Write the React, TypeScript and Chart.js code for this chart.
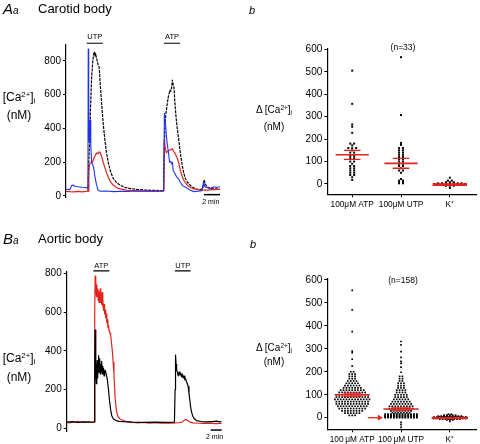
import React, { useEffect, useRef } from 'react';
import { Chart, registerables } from 'chart.js';

Chart.register(...registerables);

const FONT = "'Liberation Sans', Arial, Helvetica, sans-serif";
const RED = '#e3221c';
const BLUE = '#2231ee';

// ---------- Panel Aa (carotid body traces), time in minutes ----------
const aaTimeMax = 19.25;
const aaYTicks = [0, 200, 400, 600, 800];
const aaBlueT = [0, 0.5, 0.7, 0.9, 1.1, 1.5, 2.0, 2.5, 2.74, 2.78, 2.84, 2.9, 2.96, 3.02, 3.1, 3.2, 3.3, 3.45, 3.6, 3.8, 4.0, 4.3, 5, 6, 7, 7.8, 8.5, 9.5, 10.5, 11.5, 12.2, 12.3, 12.45, 12.6, 12.8, 12.95, 13.1, 13.2, 13.3, 13.4, 13.6, 13.8, 14.1, 14.3, 14.6, 15, 15.5, 16, 16.5, 17, 17.2, 17.35, 17.6, 18, 18.5, 18.8, 19.25];
const aaBlueV = [40, 38, 62, 65, 58, 55, 52, 50, 45, 870, 600, 320, 400, 450, 300, 200, 190, 170, 120, 70, 35, 28, 30, 26, 28, 27, 30, 28, 30, 28, 30, 490, 420, 330, 260, 200, 205, 190, 200, 150, 135, 115, 100, 80, 60, 50, 35, 26, 28, 32, 85, 55, 50, 45, 55, 50, 55];
const aaBlackT = [2.7, 2.75, 2.85, 2.95, 3.05, 3.2, 3.35, 3.45, 3.55, 3.62, 3.7, 3.8, 3.9, 4.0, 4.15, 4.3, 4.45, 4.65, 4.85, 5.05, 5.3, 5.6, 5.9, 6.3, 6.75, 7.3, 8, 9, 10, 11, 12.2, 12.3, 12.4, 12.55, 12.7, 12.8, 12.9, 13.0, 13.1, 13.2, 13.3, 13.4, 13.5, 13.6, 13.75, 13.9, 14.1, 14.3, 14.5, 14.7, 14.9, 15.2, 15.5, 15.9, 16.3, 16.8, 17.1, 17.25, 17.45, 17.6, 18, 18.5, 19.25];
const aaBlackV = [30, 30, 200, 320, 500, 700, 800, 840, 855, 830, 845, 820, 800, 780, 760, 650, 550, 430, 336, 260, 194, 140, 105, 80, 65, 52, 45, 38, 35, 33, 32, 300, 450, 510, 560, 590, 610, 628, 620, 640, 687, 660, 640, 560, 470, 400, 330, 250, 190, 140, 105, 80, 65, 50, 40, 38, 45, 95, 70, 55, 45, 42, 40];
const aaRedT = [0, 0.5, 1, 1.5, 2, 2.5, 2.78, 2.86, 2.95, 3.1, 3.3, 3.5, 3.7, 3.85, 4.0, 4.15, 4.3, 4.45, 4.65, 4.85, 5.05, 5.3, 5.6, 5.9, 6.3, 6.75, 7.5, 8, 9, 10, 11, 12.22, 12.3, 12.4, 12.55, 12.7, 12.9, 13.1, 13.3, 13.45, 13.6, 13.75, 13.9, 14.1, 14.3, 14.5, 14.7, 14.9, 15.2, 15.6, 16, 16.5, 17, 17.6, 18.5, 19.25];
const aaRedV = [28, 26, 25, 27, 25, 27, 28, 150, 190, 195, 200, 225, 245, 255, 250, 262, 255, 235, 200, 170, 140, 110, 82, 65, 50, 42, 35, 33, 30, 30, 29, 30, 330, 290, 255, 265, 270, 275, 280, 265, 255, 240, 225, 195, 150, 120, 95, 80, 62, 50, 42, 36, 35, 35, 38, 40];
const aaStimOn = [2.6, 12.25];
const aaStimOff = [4.6, 14.25];
const aaStimNames = ['UTP', 'ATP'];
const aaScaleBar = [17.25, 19.25];

// ---------- Panel Ab (carotid body, scatter) ----------
const abCats = ['100μM ATP', '100μM UTP', 'K⁺'];
const abYTicks = [0, 100, 200, 300, 400, 500, 600];
const abAtpRows = [[505, 1], [357, 1], [265, 1], [255, 1], [228, 1], [180, 2], [172, 1], [160, 3], [150, 1], [140, 2], [125, 2], [115, 2], [100, 2], [90, 1], [80, 2], [70, 2], [60, 2], [50, 2], [40, 2], [30, 1], [18, 1]];
const abUtpRows = [[565, 1], [307, 1], [183, 1], [174, 1], [160, 2], [150, 2], [140, 2], [130, 2], [120, 2], [110, 2], [100, 2], [90, 2], [80, 2], [70, 1], [60, 2], [50, 1], [22, 1], [15, 2], [8, 2], [3, 2]];
const abKRows = [[28, 1], [15, 2], [8, 3], [3, 7], [0, 9], [-4, 7], [-8, 3], [-18, 1]];
const abMeans = [130, 92, -3];
const abSems = [20, 22, 3];
const abN = '(n=33)';

// ---------- Panel Ba (aortic body traces) ----------
const baTimeMax = 28.2;
const baYTicks = [0, 200, 400, 600, 800];
const baRedT = [0, 0.5, 1, 1.5, 2, 2.5, 3, 3.5, 4, 4.5, 5.0, 5.1, 5.18, 5.25, 5.32, 5.4, 5.48, 5.56, 5.64, 5.72, 5.8, 5.88, 5.96, 6.04, 6.12, 6.2, 6.28, 6.36, 6.44, 6.52, 6.6, 6.7, 6.8, 6.9, 7.0, 7.1, 7.2, 7.3, 7.4, 7.5, 7.6, 7.7, 7.8, 7.9, 8.0, 8.15, 8.3, 8.45, 8.6, 8.8, 9.05, 9.3, 9.7, 10.3, 11, 12, 13, 14, 15, 16, 17, 18, 19, 19.8, 20.5, 21, 21.4, 21.7, 22.0, 22.4, 23, 24, 25, 26, 27, 28.2];
const baRedV = [30, 28, 33, 30, 36, 32, 34, 30, 35, 30, 32, 600, 785, 700, 760, 680, 740, 690, 720, 660, 710, 650, 700, 680, 720, 650, 690, 640, 700, 630, 670, 610, 640, 590, 610, 570, 590, 545, 560, 520, 530, 505, 495, 490, 480, 440, 400, 340, 280, 160, 90, 62, 48, 40, 33, 30, 28, 30, 27, 29, 26, 28, 27, 28, 30, 32, 42, 46, 40, 32, 28, 26, 25, 27, 24, 25];
const baBlackT = [0, 1, 2, 3, 4, 5.0, 5.1, 5.17, 5.25, 5.33, 5.4, 5.48, 5.56, 5.64, 5.72, 5.8, 5.88, 5.96, 6.04, 6.12, 6.2, 6.28, 6.36, 6.44, 6.52, 6.6, 6.7, 6.8, 6.9, 7.0, 7.2, 7.4, 7.6, 7.8, 8.0, 8.2, 8.5, 9.0, 9.5, 10.5, 12, 14, 16, 18, 19.6, 19.72, 19.8, 19.9, 20.0, 20.15, 20.3, 20.45, 20.6, 20.75, 20.9, 21.05, 21.2, 21.35, 21.5, 21.65, 21.8, 21.95, 22.1, 22.25, 22.4, 22.55, 22.7, 22.9, 23.15, 23.6, 24.5, 25.5, 26.5, 27.3, 27.8, 28.2];
const baBlackV = [32, 34, 31, 33, 32, 33, 300, 507, 380, 275, 230, 310, 350, 260, 330, 375, 290, 340, 360, 280, 330, 300, 345, 290, 320, 280, 310, 270, 295, 300, 280, 250, 200, 140, 95, 65, 48, 40, 36, 34, 32, 31, 32, 31, 32, 200, 378, 330, 300, 290, 270, 290, 275, 285, 265, 280, 260, 270, 250, 255, 240, 230, 215, 180, 146, 110, 86, 65, 52, 40, 35, 33, 35, 37, 33, 35];
const baStimOn = [4.84, 19.7];
const baStimOff = [7.75, 22.55];
const baStimNames = ['ATP', 'UTP'];
const baScaleBar = [26.2, 28.2];

// ---------- Panel Bb (aortic body, scatter) ----------
const bbCats = ['100\u2009μM ATP', '100\u2009μM UTP', 'K⁺'];
const bbYTicks = [0, 100, 200, 300, 400, 500, 600];
const bbAtpRows = [[555, 1], [470, 1], [375, 1], [290, 1], [283, 1], [255, 1], [225, 1], [200, 2], [190, 3], [180, 3], [170, 3], [160, 4], [150, 5], [140, 6], [130, 7], [120, 9], [110, 10], [100, 12], [90, 12], [80, 13], [70, 12], [60, 12], [50, 11], [40, 10], [30, 8], [20, 6], [10, 3]];
const bbUtpRows = [[332, 1], [317, 1], [288, 1], [263, 1], [245, 1], [237, 1], [220, 1], [198, 1], [180, 2], [170, 2], [160, 2], [150, 3], [140, 3], [130, 3], [120, 4], [110, 4], [100, 5], [90, 5], [80, 6], [70, 7], [60, 8], [50, 9], [40, 9], [30, 8], [22, 7], [16, 12], [12, 12], [8, 12], [4, 12], [0, 12], [-20, 1], [-30, 1], [-42, 1]];
const bbKRows = [[15, 2], [11, 5], [7, 9], [3, 12], [0, 13], [-3, 12], [-6, 8], [-10, 3], [-16, 1]];
const bbMeans = [100, 38, -2];
const bbSems = [7, 5, 2];
const bbN = '(n=158)';
const bbArrowX = [1.32, 1.56];
const bbArrowY = 0;

// ---------- helpers ----------
const zip = (t: number[], v: number[]) => t.map((x, i) => ({ x, y: v[i] }));
const segs = (on: number[], off: number[], y: number) => {
  const d: any[] = [];
  on.forEach((a, i) => { d.push({ x: a, y }, { x: off[i], y }, { x: off[i], y: null }); });
  return d;
};
const swarm = (rows: number[][], col: number, step: number) => {
  const pts: any[] = [];
  rows.forEach(([v, n]) => { for (let i = 0; i < n; i++) pts.push({ x: col + (i - (n - 1) / 2) * step, y: v }); });
  return pts;
};
const hLines = (vals: number[], half: number[]) => {
  const d: any[] = [];
  vals.forEach((m, i) => { const c = i + 1; d.push({ x: c - half[i], y: m }, { x: c + half[i], y: m }, { x: c + half[i], y: null }); });
  return d;
};

const textPlugin = {
  id: 'texts',
  afterDraw(chart: any, _a: any, opts: any) {
    const items = (opts && opts.items) || [];
    const ctx = chart.ctx;
    const xs = chart.scales.x, ys = chart.scales.y;
    ctx.save();
    items.forEach((it: any) => {
      ctx.font = it.font;
      ctx.fillStyle = '#000';
      ctx.textAlign = 'center';
      ctx.textBaseline = 'middle';
      ctx.fillText(it.text, xs.getPixelForValue(it.x), ys.getPixelForValue(it.y));
    });
    ctx.restore();
  },
};

function yAxis(min: number, max: number, ticks: number[]) {
  return {
    type: 'linear', min, max,
    afterBuildTicks: (s: any) => { s.ticks = ticks.map((v) => ({ value: v })); },
    afterFit: (s: any) => { s.width = 30; },
    grid: { drawOnChartArea: false, drawTicks: true, tickLength: 3, color: '#000', lineWidth: 1 },
    border: { display: true, color: '#000', width: 1.2 },
    ticks: { color: '#000', font: { family: FONT, size: 10 }, padding: 2 },
  };
}

function catAxis(cats: string[]) {
  return {
    type: 'linear', min: 0.49, max: 3.55,
    afterBuildTicks: (s: any) => { s.ticks = [1, 2, 3].map((v) => ({ value: v })); },
    afterFit: (s: any) => { s.height = 16; },
    grid: { drawOnChartArea: false, drawTicks: true, tickLength: 3, color: '#000', lineWidth: 1 },
    border: { display: true, color: '#000', width: 1.2 },
    ticks: { color: '#000', font: { family: FONT, size: 8.3 }, padding: 2, autoSkip: false, maxRotation: 0, minRotation: 0, callback: (_v: any, i: number) => cats[i] },
  };
}

const line = (data: any[], color: string, width: number, extra: any = {}) => ({
  data, borderColor: color, backgroundColor: color, borderWidth: width, pointRadius: 0,
  pointHoverRadius: 0, borderJoinStyle: 'round', spanGaps: false, tension: 0, ...extra,
});

const baseOpts = (padding: any, scales: any, items: any[]) => ({
  responsive: false, animation: false, devicePixelRatio: 1,
  layout: { padding },
  scales,
  plugins: { legend: { display: false }, tooltip: { enabled: false }, texts: { items } },
  events: [],
});

function cfgAa(): any {
  const stimY = 905;
  const items = aaStimNames.map((n, i) => ({ text: n, x: (aaStimOn[i] + aaStimOff[i]) / 2, y: 940, font: `7.5px ${FONT}` }));
  items.push({ text: '2 min', x: 18.1, y: -36, font: `7px ${FONT}` });
  return {
    type: 'line',
    data: {
      datasets: [
        line(zip(aaBlueT, aaBlueV), BLUE, 1.1),
        line(zip(aaRedT, aaRedV), RED, 1.2),
        line(zip(aaBlackT, aaBlackV), '#000', 1.2, { borderDash: [3, 1] }),
        line(segs(aaStimOn, aaStimOff, stimY), '#000', 1.2, { clip: false }),
        line(segs([aaScaleBar[0]], [aaScaleBar[1]], 8), '#000', 1.5, { clip: false }),
      ],
    },
    options: baseOpts({ left: 36, top: 44.1, right: 260, bottom: 246.65 }, {
      x: { type: 'linear', display: false, min: 0, max: aaTimeMax },
      y: yAxis(-8, 900, aaYTicks),
    }, items),
    plugins: [textPlugin],
  };
}

function cfgBa(): any {
  const stimY = 813;
  const items = baStimNames.map((n, i) => ({ text: n, x: (baStimOn[i] + baStimOff[i]) / 2, y: 838, font: `7.5px ${FONT}` }));
  items.push({ text: '2 min', x: 26.9, y: -47, font: `7px ${FONT}` });
  return {
    type: 'line',
    data: {
      datasets: [
        line(zip(baBlackT, baBlackV), '#000', 1.2),
        line(zip(baRedT, baRedV), RED, 1.2),
        line(segs(baStimOn, baStimOff, stimY), '#000', 1.2, { clip: false }),
        line(segs([baScaleBar[0]], [baScaleBar[1]], -9), '#000', 1.5, { clip: false }),
      ],
    },
    options: baseOpts({ left: 36.7, top: 271.75, right: 258.3, bottom: 12.3 }, {
      x: { type: 'linear', display: false, min: 0, max: baTimeMax },
      y: yAxis(-17.5, 808, baYTicks),
    }, items),
    plugins: [textPlugin],
  };
}

function scatterCfg(rows: number[][][], means: number[], sems: number[], cats: string[], step: number,
  meanHalf: number[], semHalf: number[], ymin: number, ymax: number, ticks: number[], padding: any,
  nText: string, nY: number, extra: any[], radius: number): any {
  const pts = [...swarm(rows[0], 1, step), ...swarm(rows[1], 2, step), ...swarm(rows[2], 3, step)];
  return {
    type: 'line',
    data: {
      datasets: [
        ...extra,
        line(hLines(means, meanHalf), RED, 1.6, { clip: false }),
        line(hLines(means.map((m, i) => m + sems[i]), semHalf), RED, 1.3, { clip: false }),
        line(hLines(means.map((m, i) => m - sems[i]), semHalf), RED, 1.3, { clip: false }),
        {
          data: pts, showLine: false, pointStyle: 'rect', pointRadius: radius, pointHoverRadius: 0,
          pointBackgroundColor: '#000', pointBorderWidth: 0, borderColor: '#000', clip: false,
        },
      ],
    },
    options: baseOpts(padding, { x: catAxis(cats), y: yAxis(ymin, ymax, ticks) },
      [{ text: nText, x: 2.04, y: nY, font: `8.5px ${FONT}` }]),
    plugins: [textPlugin],
  };
}

function cfgAb(): any {
  return scatterCfg([abAtpRows, abUtpRows, abKRows], abMeans, abSems, abCats, 0.08,
    [0.34, 0.34, 0.35], [0.17, 0.17, 0.35],
    -46, 605, abYTicks, { left: 297.3, top: 48.2, right: 3.3, bottom: 444 - 194.3 - 16 }, abN, 608, [], 1.4);
}

function cfgBb(): any {
  const arrow = line([{ x: bbArrowX[0], y: bbArrowY }, { x: bbArrowX[1], y: bbArrowY }], RED, 1.3, {
    pointRadius: [0, 3.3], pointStyle: 'triangle', rotation: 90, pointRotation: 90,
    pointBackgroundColor: RED, pointBorderWidth: 0, clip: false,
  });
  return scatterCfg([bbAtpRows, bbUtpRows, bbKRows], bbMeans, bbSems, bbCats, 0.059,
    [0.36, 0.36, 0.36], [0.18, 0.2, 0.36],
    -50.5, 606, bbYTicks, { left: 297.3, top: 278.6, right: 3.3, bottom: 444 - 429.3 - 16 }, bbN, 596, [arrow], 1.2);
}

const Txt = ({ l, t, w, size, italic, children, align }: any) => (
  <div style={{
    position: 'absolute', left: l, top: t, width: w, textAlign: align || 'left', whiteSpace: 'nowrap',
    fontFamily: FONT, fontSize: size, fontStyle: italic ? 'italic' : 'normal', lineHeight: 1, color: '#000',
  }}>{children}</div>
);

const Sup = ({ children }: any) => <span style={{ fontSize: '0.65em', verticalAlign: '0.5em', lineHeight: 0 }}>{children}</span>;
const Sub = ({ children }: any) => <span style={{ fontSize: '0.65em', verticalAlign: '-0.3em', lineHeight: 0 }}>{children}</span>;

export default function App() {
  const r1 = useRef<HTMLCanvasElement>(null);
  const r2 = useRef<HTMLCanvasElement>(null);
  const r3 = useRef<HTMLCanvasElement>(null);
  const r4 = useRef<HTMLCanvasElement>(null);
  useEffect(() => {
    const charts = [
      new Chart(r1.current as any, cfgAa()),
      new Chart(r2.current as any, cfgAb()),
      new Chart(r3.current as any, cfgBa()),
      new Chart(r4.current as any, cfgBb()),
    ];
    return () => charts.forEach((c) => c.destroy());
  }, []);
  const cs: any = { position: 'absolute', left: 0, top: 0, width: 480, height: 444 };
  return (
    <div style={{ position: 'absolute', left: 0, top: 0, width: 480, height: 444, background: '#fff', overflow: 'hidden' }}>
      <canvas ref={r1} width={480} height={444} style={cs} />
      <canvas ref={r2} width={480} height={444} style={cs} />
      <canvas ref={r3} width={480} height={444} style={cs} />
      <canvas ref={r4} width={480} height={444} style={cs} />

      <Txt l={3} t={0.7} size={15} italic>A<span style={{ fontSize: 10 }}>a</span></Txt>
      <Txt l={38} t={1.6} size={13}>Carotid body</Txt>
      <Txt l={0} t={91} w={38} size={12} align="center">[Ca<Sup>2+</Sup>]<Sub>i</Sub></Txt>
      <Txt l={0} t={109} w={38} size={12} align="center">(nM)</Txt>

      <Txt l={249} t={4.6} size={11} italic>b</Txt>
      <Txt l={248} t={105} w={52} size={10} align="center">Δ [Ca<Sup>2+</Sup>]<Sub>i</Sub></Txt>
      <Txt l={248} t={122} w={52} size={10} align="center">(nM)</Txt>

      <Txt l={3} t={230.7} size={15} italic>B<span style={{ fontSize: 10 }}>a</span></Txt>
      <Txt l={38} t={231.6} size={13}>Aortic body</Txt>
      <Txt l={0} t={352} w={38} size={12} align="center">[Ca<Sup>2+</Sup>]<Sub>i</Sub></Txt>
      <Txt l={0} t={370.7} w={38} size={12} align="center">(nM)</Txt>

      <Txt l={250} t={238.6} size={11} italic>b</Txt>
      <Txt l={248} t={342.7} w={52} size={10} align="center">Δ [Ca<Sup>2+</Sup>]<Sub>i</Sub></Txt>
      <Txt l={248} t={357} w={52} size={10} align="center">(nM)</Txt>
    </div>
  );
}
